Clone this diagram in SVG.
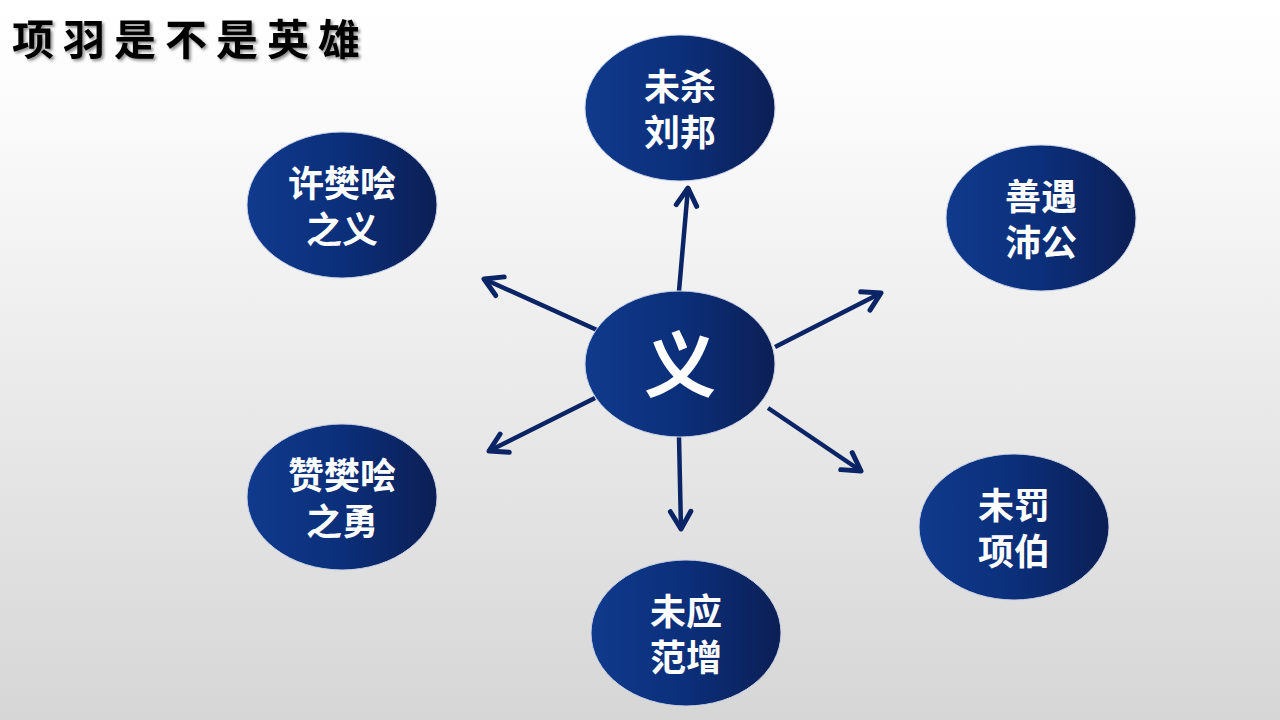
<svg xmlns="http://www.w3.org/2000/svg" width="1280" height="720" viewBox="0 0 1280 720">
<defs>
<linearGradient id="bg" x1="0" y1="0" x2="0" y2="1">
<stop offset="0" stop-color="#ffffff"/>
<stop offset="0.15" stop-color="#fbfbfb"/>
<stop offset="1" stop-color="#d6d6d6"/>
</linearGradient>
<linearGradient id="nodeFill" x1="0" y1="0" x2="1" y2="0">
<stop offset="0" stop-color="#103a8c"/>
<stop offset="0.5" stop-color="#0b2f7a"/>
<stop offset="1" stop-color="#0c1f55"/>
</linearGradient>
<filter id="ts" x="-10%" y="-10%" width="130%" height="140%">
<feGaussianBlur in="SourceAlpha" stdDeviation="1.5"/>
<feOffset dx="2" dy="2" result="b"/>
<feComponentTransfer><feFuncA type="linear" slope="0.45"/></feComponentTransfer>
<feMerge><feMergeNode/><feMergeNode in="SourceGraphic"/></feMerge>
</filter>
<marker id="arr" viewBox="0 0 20 20" refX="16" refY="10" markerWidth="6.5" markerHeight="6.5" markerUnits="strokeWidth" orient="auto">
<path d="M4,3 L16,10 L4,17" fill="none" stroke="#0a2466" stroke-width="3.4" stroke-linecap="round" stroke-linejoin="round"/>
</marker>
</defs>
<style>
.node ellipse{fill:url(#nodeFill);stroke:#c9d2e6;stroke-width:1}
.lbl{font-family:"Noto Sans CJK SC","Noto Sans",sans-serif;font-weight:bold;fill:#ffffff;font-size:36px;text-anchor:middle}
.conn line{stroke:#0a2466;stroke-width:4.5;marker-end:url(#arr)}
</style>
<rect width="1280" height="720" fill="url(#bg)"/>
<text x="12" y="55" font-family="Noto Sans CJK SC, sans-serif" font-weight="bold" font-size="42" letter-spacing="9" fill="#000" filter="url(#ts)">项羽是不是英雄</text>
<g class="conn">
<line x1="679" y1="291" x2="688" y2="188"/>
<line x1="775" y1="347" x2="881" y2="293"/>
<line x1="768" y1="408" x2="861" y2="471"/>
<line x1="679" y1="437" x2="681" y2="529"/>
<line x1="595" y1="398" x2="489" y2="451"/>
<line x1="597" y1="330" x2="484" y2="279"/>
</g>
<g id="center" class="node">
<ellipse cx="680" cy="364" rx="95" ry="73"/>
<text class="lbl" x="680" y="391" style="font-size:72px">义</text>
</g>
<g id="n1" class="node">
<ellipse cx="680" cy="108" rx="95" ry="73"/>
<text class="lbl" x="680" y="100">未杀<tspan x="680" dy="46">刘邦</tspan></text>
</g>
<g id="n2" class="node">
<ellipse cx="1041" cy="218" rx="95" ry="73"/>
<text class="lbl" x="1041" y="210">善遇<tspan x="1041" dy="46">沛公</tspan></text>
</g>
<g id="n3" class="node">
<ellipse cx="1014" cy="527" rx="95" ry="73"/>
<text class="lbl" x="1014" y="519">未罚<tspan x="1014" dy="46">项伯</tspan></text>
</g>
<g id="n4" class="node">
<ellipse cx="686" cy="633" rx="95" ry="73"/>
<text class="lbl" x="686" y="625">未应<tspan x="686" dy="46">范增</tspan></text>
</g>
<g id="n5" class="node">
<ellipse cx="342" cy="497" rx="95" ry="73"/>
<text class="lbl" x="342" y="489">赞樊哙<tspan x="342" dy="46">之勇</tspan></text>
</g>
<g id="n6" class="node">
<ellipse cx="342" cy="205" rx="95" ry="73"/>
<text class="lbl" x="342" y="197">许樊哙<tspan x="342" dy="46">之义</tspan></text>
</g>
</svg>
